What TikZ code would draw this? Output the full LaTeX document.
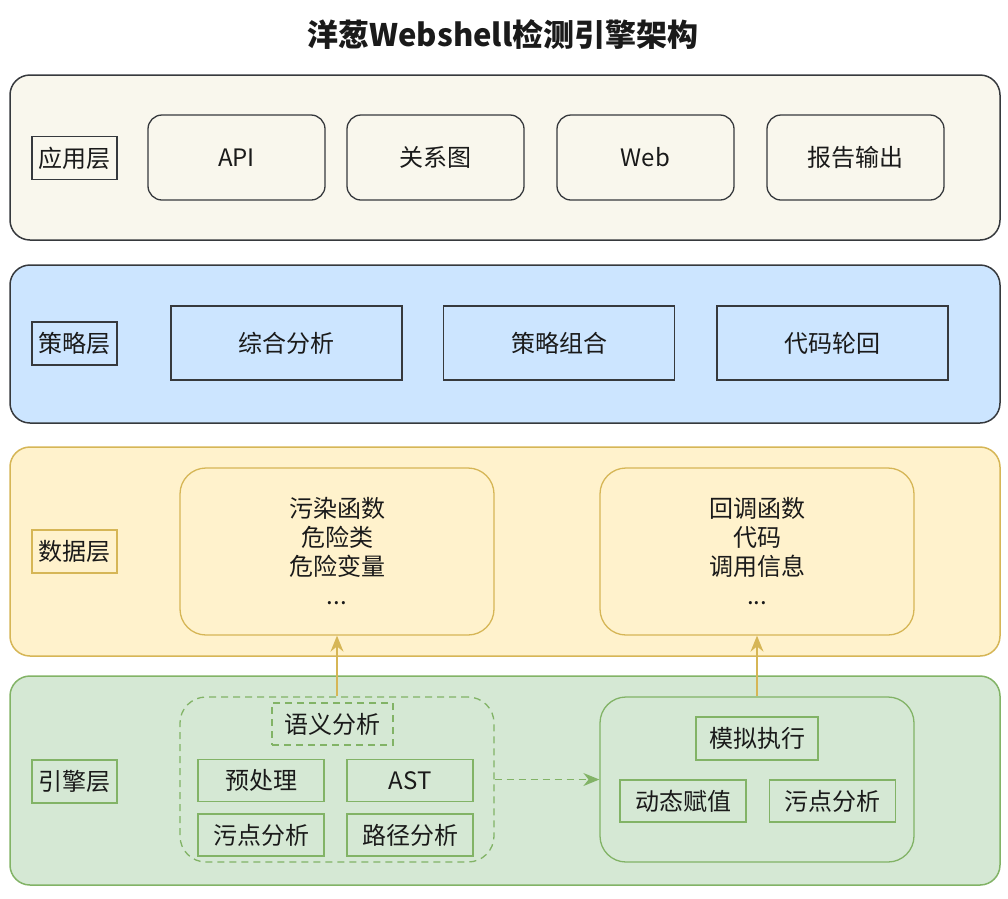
\documentclass[tikz,border=0pt]{standalone}
\usepackage{fontspec}
\setmainfont{Noto Sans CJK SC}
\usetikzlibrary{arrows.meta}

\definecolor{appfill}{HTML}{F9F7ED}
\definecolor{strfill}{HTML}{CCE5FF}
\definecolor{grayline}{HTML}{36393D}
\definecolor{datfill}{HTML}{FFF2CC}
\definecolor{datline}{HTML}{D6B656}
\definecolor{engfill}{HTML}{D5E8D4}
\definecolor{engline}{HTML}{82B366}
\definecolor{txt}{HTML}{1A1A1A}

\tikzset{
  wh/.style 2 args={minimum width=#1pt, minimum height=#2pt},
  layer/.style={draw, line width=1.5pt, rounded corners=20pt, minimum width=990pt, minimum height=#1pt},
  lbl/.style={draw, line width=1.3pt, wh={85}{43}},
  appbox/.style={draw=grayline, line width=1.3pt, rounded corners=14pt, wh={177}{85}},
  strbox/.style={draw=grayline, line width=1.3pt, wh={231}{74}},
  datbox/.style={draw=datline, line width=1.3pt, rounded corners=26pt, wh={314}{167}, align=center},
  grp/.style={draw=engline, line width=1.3pt, rounded corners=26pt, wh={314}{165}},
  engbox/.style={draw=engline, line width=1.3pt, wh={126}{42}},
  dashline/.style={dash pattern=on 7pt off 5pt},
  uparrow/.style={draw=datline, line width=1.3pt, -{Stealth[length=16pt,width=13pt]}},
}

\begin{document}
\begin{tikzpicture}[x=1pt,y=-1pt,
  every node/.style={font=\fontsize{24}{29}\selectfont, text=txt, inner sep=0pt}]
\useasboundingbox (0,0) rectangle (1008,898);

% title
\node at (503,35) (title) {\fontsize{31}{36}\selectfont\bfseries 洋葱Webshell检测引擎架构};

% layers
\node at (505,157.5) [layer=165, draw=grayline, fill=appfill] (applayer) {};
\node at (505,344) [layer=158, draw=grayline, fill=strfill] (strlayer) {};
\node at (505,551.5) [layer=209, draw=datline, fill=datfill] (datlayer) {};
\node at (505,780.5) [layer=209, draw=engline, fill=engfill] (englayer) {};

% layer names
\node at (74.5,158) [lbl, draw=grayline] (applbl) {应用层};
\node at (74.5,343.5) [lbl, draw=grayline] (strlbl) {策略层};
\node at (74.5,551.5) [lbl, draw=datline] (datlbl) {数据层};
\node at (74.5,781.5) [lbl, draw=engline] (englbl) {引擎层};

% application layer
\node at (236.5,157.5) [appbox] (api) {API};
\node at (435.5,157.5) [appbox] (graph) {关系图};
\node at (645.5,157.5) [appbox] (web) {Web};
\node at (855.5,157.5) [appbox] (report) {报告输出};

% strategy layer
\node at (286.5,343) [strbox] (analysis) {综合分析};
\node at (559,343) [strbox] (combine) {策略组合};
\node at (832.5,343) [strbox] (loop) {代码轮回};

% data layer
\node at (337,551.5) [datbox] (taintdata) {污染函数\\危险类\\危险变量\\...};
\node at (757,551.5) [datbox] (calldata) {回调函数\\代码\\调用信息\\...};

% engine layer
\node at (337,779.5) [grp, dashline] (semgrp) {};
\node at (757,779.5) [grp] (simgrp) {};
\node at (332.5,724) [engbox, dashline, wh={121}{42}] (semantic) {语义分析};
\node at (261,780.5) [engbox] (preproc) {预处理};
\node at (410,780.5) [engbox] (ast) {AST};
\node at (261,835) [engbox] (taint) {污点分析};
\node at (410,835) [engbox] (path) {路径分析};
\node at (757,738.5) [engbox, wh={122}{43}] (simexec) {模拟执行};
\node at (683,801) [engbox] (dynassign) {动态赋值};
\node at (832.5,801) [engbox] (taint2) {污点分析};

% connectors
\draw[uparrow] (semgrp.north) -- (taintdata.south);
\draw[uparrow] (simgrp.north) -- (calldata.south);
\draw[draw=engline, line width=1.3pt, dashline, -{Stealth[length=16pt,width=13pt]}] (semgrp.east) -- (simgrp.west);
\end{tikzpicture}
\end{document}
